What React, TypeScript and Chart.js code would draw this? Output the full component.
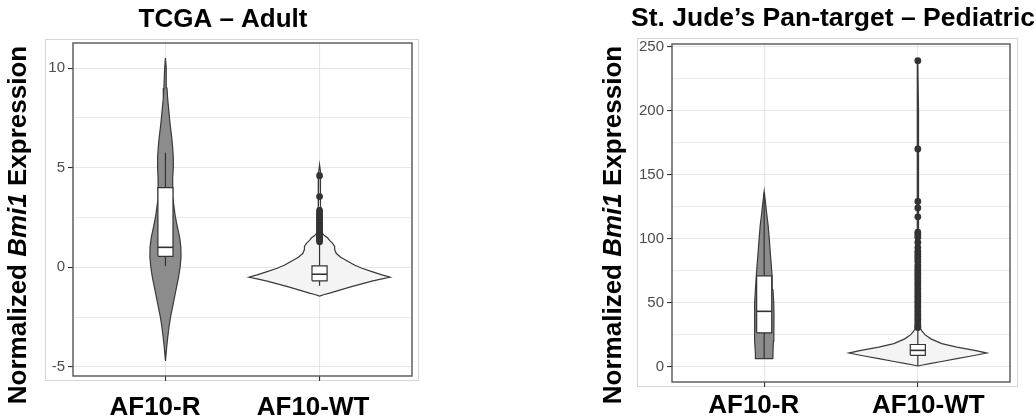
import React, { useEffect, useRef } from "react";
import { Chart, registerables } from "chart.js";

Chart.register(...registerables);

const FONT = '"Liberation Sans", Arial, Helvetica, sans-serif';

// ---------- shared ----------
const categories = ["AF10-R", "AF10-WT"];
const yTitleParts = [
  { text: "Normalized ", italic: false },
  { text: "Bmi1", italic: true },
  { text: " Expression", italic: false },
];

// ---------- TCGA – Adult ----------
const tcgaTitle = "TCGA \u2013 Adult";
const tcgaMajorTicks = [-5, 0, 5, 10];
const tcgaMinorTicks = [-2.5, 2.5, 7.5];
const tcgaRange = [-5.46, 11.26];

const tcgaRViolinY = [-4.7, -4, -3.5, -3, -2.5, -2, -1.5, -1, -0.5, 0, 0.5, 1, 1.5, 2, 2.5, 3, 3.5, 4, 4.5, 5, 5.5, 6, 6.5, 7, 7.5, 8, 8.5, 9, 10, 10.5];
const tcgaRViolinHalf = [0, 0.008, 0.015, 0.023, 0.033, 0.046, 0.059, 0.072, 0.085, 0.095, 0.101, 0.1, 0.092, 0.078, 0.065, 0.056, 0.048, 0.046, 0.048, 0.051, 0.051, 0.047, 0.041, 0.033, 0.026, 0.02, 0.014, 0.01, 0.005, 0];
const tcgaWTViolinY = [-1.45, -1.38, -1.3, -1.15, -1.0, -0.85, -0.7, -0.58, -0.5, -0.38, -0.22, -0.05, 0.1, 0.3, 0.5, 0.7, 0.9, 1.05, 1.2, 1.35, 1.48, 1.58, 1.68, 1.85, 2.3, 3.0, 4.0, 4.8, 5.15];
const tcgaWTViolinHalf = [0, 0.026, 0.065, 0.131, 0.196, 0.268, 0.34, 0.405, 0.458, 0.405, 0.34, 0.275, 0.229, 0.183, 0.137, 0.108, 0.098, 0.098, 0.085, 0.065, 0.052, 0.033, 0.022, 0.013, 0.01, 0.008, 0.007, 0.005, 0];
// [lower whisker, Q1, median, Q3, upper whisker]
const tcgaRBox = [0.07, 0.55, 1.0, 4.0, 5.75];
const tcgaWTBox = [-0.93, -0.68, -0.35, 0.07, 1.2];
const tcgaROutliers: number[] = [];
const tcgaWTOutliers = [4.6, 3.55, 2.85, 2.7, 2.6, 2.5, 2.4, 2.3, 2.2, 2.1, 2.0, 1.9, 1.8, 1.7, 1.6, 1.5, 1.42, 1.35, 1.28];

// ---------- St. Jude's Pan-target – Pediatric ----------
const sjTitle = "St. Jude\u2019s Pan-target \u2013 Pediatric";
const sjMajorTicks = [0, 50, 100, 150, 200, 250];
const sjMinorTicks = [25, 75, 125, 175, 225];
const sjRange = [-12, 252];

const sjRViolinY = [6.2, 10, 20, 30, 40, 50, 60, 70, 80, 90, 100, 110, 120, 130, 137];
const sjRViolinHalf = [0.057, 0.057, 0.06, 0.063, 0.064, 0.062, 0.057, 0.052, 0.046, 0.039, 0.033, 0.026, 0.016, 0.007, 0];
const sjWTViolinY = [0.5, 1.5, 2.3, 4.2, 6.2, 8.5, 10.6, 12.5, 15.3, 18, 21.7, 25, 28, 30, 35, 50, 100, 150, 200, 239];
const sjWTViolinHalf = [0, 0.039, 0.078, 0.163, 0.254, 0.358, 0.449, 0.378, 0.254, 0.156, 0.085, 0.046, 0.026, 0.016, 0.008, 0.007, 0.005, 0.005, 0.004, 0];
const sjRBox = [6.2, 26.4, 43.2, 70.9, 136];
const sjWTBox = [0.5, 8.8, 12.7, 17.3, 29.5];
const sjROutliers: number[] = [];
const sjWTOutliers = [239, 170, 129, 124, 117, 105, 103, 101, 97, 93, 90, 88, 86, 84, 82, 79, 77, 75, 73, 71, 69, 67, 65, 63, 61, 59, 57, 55, 53, 51, 49, 47, 45, 43, 41, 39, 37, 35, 33, 31.5, 30.5];

// ---------- styles ----------
const R_FILL = "#8c8c8c";
const WT_FILL = "#f4f4f4";
const OUTLINE = "#3a3a3a";
const BOX_HALF = 0.049;

type Pt = { x: number; y: number };

function violinPoints(center: number, ys: number[], half: number[]): Pt[] {
  const right = ys.map((y, i) => ({ x: center + half[i], y }));
  const left = ys.map((y, i) => ({ x: center - half[i], y })).reverse();
  const pts = [...right, ...left];
  pts.push({ ...pts[0] });
  return pts;
}

function groupDatasets(center: number, ys: number[], half: number[], box: number[], outliers: number[], fill: string) {
  const [lo, q1, med, q3, hi] = box;
  const base = { pointRadius: 0, pointHoverRadius: 0, tension: 0 };
  return [
    {
      ...base,
      data: violinPoints(center, ys, half),
      borderColor: OUTLINE,
      borderWidth: 1.2,
      backgroundColor: fill,
      fill: "shape",
      order: 10,
    },
    {
      ...base,
      data: [{ x: center, y: lo }, { x: center, y: q1 }],
      borderColor: "#333333",
      borderWidth: 1.2,
      fill: false,
      order: 8,
    },
    {
      ...base,
      data: [{ x: center, y: q3 }, { x: center, y: hi }],
      borderColor: "#333333",
      borderWidth: 1.2,
      fill: false,
      order: 8,
    },
    {
      ...base,
      data: [
        { x: center - BOX_HALF, y: q1 },
        { x: center + BOX_HALF, y: q1 },
        { x: center + BOX_HALF, y: q3 },
        { x: center - BOX_HALF, y: q3 },
        { x: center - BOX_HALF, y: q1 },
      ],
      borderColor: "#333333",
      borderWidth: 1.2,
      backgroundColor: "#ffffff",
      fill: "shape",
      order: 6,
    },
    {
      ...base,
      data: [{ x: center - BOX_HALF, y: med }, { x: center + BOX_HALF, y: med }],
      borderColor: "#333333",
      borderWidth: 1.6,
      fill: false,
      order: 5,
    },
    {
      data: outliers.map((y) => ({ x: center, y })),
      showLine: false,
      pointRadius: 3.4,
      pointHoverRadius: 3.4,
      pointBackgroundColor: "#333333",
      pointBorderColor: "#333333",
      pointBorderWidth: 0,
      order: 3,
    },
  ];
}

const framePlugin = {
  id: "panelFrame",
  beforeDraw(chart: any, _a: any, opts: any) {
    const { ctx, chartArea: a } = chart;
    ctx.save();
    ctx.strokeStyle = "#d6d6d6";
    ctx.lineWidth = 1;
    const o = opts.outer;
    ctx.strokeRect(a.left - o[0] + 0.5, a.top - o[1] + 0.5, a.right - a.left + o[0] + o[2], a.bottom - a.top + o[1] + o[3]);
    ctx.restore();
  },
  afterDatasetsDraw(chart: any) {
    const { ctx, chartArea: a } = chart;
    ctx.save();
    ctx.strokeStyle = "#555555";
    ctx.lineWidth = 1.4;
    ctx.strokeRect(a.left, a.top, a.right - a.left, a.bottom - a.top);
    ctx.restore();
  },
};

const textPlugin = {
  id: "panelText",
  afterDraw(chart: any, _a: any, opts: any) {
    const ctx = chart.ctx;
    ctx.save();
    ctx.fillStyle = "#000";
    ctx.font = `bold ${opts.titleSize}px ${FONT}`;
    ctx.textAlign = "center";
    ctx.textBaseline = "alphabetic";
    ctx.fillText(opts.title, opts.titleX, opts.titleY);
    ctx.translate(opts.yTitleX, opts.yTitleY);
    ctx.rotate(-Math.PI / 2);
    ctx.textAlign = "left";
    const fonts = yTitleParts.map((p) => `${p.italic ? "italic " : ""}bold 26px ${FONT}`);
    const widths = yTitleParts.map((p, i) => {
      ctx.font = fonts[i];
      return ctx.measureText(p.text).width;
    });
    const total = widths.reduce((s, w) => s + w, 0);
    let x = -total / 2;
    yTitleParts.forEach((p, i) => {
      ctx.font = fonts[i];
      ctx.fillText(p.text, x, 0);
      x += widths[i];
    });
    ctx.restore();
  },
};

type PanelCfg = {
  width: number;
  left: number;
  padding: { left: number; right: number; top: number; bottom: number };
  yWidth: number;
  xHeight: number;
  xPad: number;
  labelShift: number[];
  range: number[];
  majors: number[];
  minors: number[];
  datasets: any[];
  text: any;
  outer: number[];
};

function Panel({ cfg }: { cfg: PanelCfg }) {
  const ref = useRef<HTMLCanvasElement | null>(null);
  useEffect(() => {
    if (!ref.current) return;
    const all = [...cfg.majors, ...cfg.minors].sort((a, b) => a - b);
    const isMajor = (v: number) => cfg.majors.includes(v);
    const chart = new Chart(ref.current, {
      type: "line",
      data: { datasets: cfg.datasets },
      plugins: [framePlugin, textPlugin],
      options: {
        animation: false,
        responsive: false,
        devicePixelRatio: 1,
        events: [],
        layout: { padding: cfg.padding },
        plugins: {
          legend: { display: false },
          tooltip: { enabled: false },
          title: { display: false },
          panelText: cfg.text,
          panelFrame: { outer: cfg.outer },
        } as any,
        scales: {
          x: {
            type: "linear",
            position: "bottom",
            weight: 0,
            min: 0.4,
            max: 2.6,
            afterBuildTicks: (s: any) => {
              s.ticks = categories.map((_, i) => ({ value: i + 1 }));
            },
            afterFit: (s: any) => {
              s.height = 5;
            },
            ticks: { display: false },
            grid: { color: "#e6e6e6", lineWidth: 1.1, tickLength: 5, tickColor: "#333333" },
            border: { display: false },
          },
          xLabels: {
            type: "linear",
            position: "bottom",
            weight: 1,
            min: 0.4,
            max: 2.6,
            afterBuildTicks: (s: any) => {
              s.ticks = categories.map((_, i) => ({ value: i + 1 + cfg.labelShift[i] }));
            },
            afterFit: (s: any) => {
              s.height = cfg.xHeight - 5;
            },
            ticks: {
              autoSkip: false,
              maxRotation: 0,
              padding: cfg.xPad,
              color: "#000",
              font: { family: FONT, size: 26, weight: "bold" },
              callback: (_v: any, i: number) => categories[i] ?? "",
            },
            grid: { display: false, drawTicks: false },
            border: { display: false },
          },
          y: {
            type: "linear",
            min: cfg.range[0],
            max: cfg.range[1],
            afterBuildTicks: (s: any) => {
              s.ticks = all.map((v) => ({ value: v }));
            },
            afterFit: (s: any) => {
              s.width = cfg.yWidth;
            },
            ticks: {
              autoSkip: false,
              padding: 3,
              color: "#4d4d4d",
              font: { family: FONT, size: 15 },
              callback: (v: any) => (isMajor(Number(v)) ? String(v) : ""),
            },
            grid: {
              color: "#e6e6e6",
              lineWidth: (c: any) => (isMajor(c.tick?.value) ? 1.1 : 0.8),
              tickLength: 5,
              tickColor: (c: any) => (isMajor(c.tick?.value) ? "#333333" : "rgba(0,0,0,0)"),
            },
            border: { display: false },
          },
        },
      } as any,
    });
    return () => chart.destroy();
  }, [cfg]);
  return (
    <canvas
      ref={ref}
      width={cfg.width}
      height={418}
      style={{ position: "absolute", left: cfg.left, top: 0, width: cfg.width, height: 418, display: "block" }}
    />
  );
}

const tcgaCfg: PanelCfg = {
  width: 520,
  left: 0,
  padding: { left: 45, right: 108, top: 43, bottom: 0 },
  yWidth: 28,
  xHeight: 42,
  xPad: 11,
  labelShift: [-0.068, -0.042],
  range: tcgaRange,
  majors: tcgaMajorTicks,
  minors: tcgaMinorTicks,
  datasets: [
    ...groupDatasets(1, tcgaRViolinY, tcgaRViolinHalf, tcgaRBox, tcgaROutliers, R_FILL),
    ...groupDatasets(2, tcgaWTViolinY, tcgaWTViolinHalf, tcgaWTBox, tcgaWTOutliers, WT_FILL),
  ],
  text: { title: tcgaTitle, titleSize: 26, titleX: 223, titleY: 27, yTitleX: 26, yTitleY: 225 },
  outer: [28, 4, 6, 4],
};

const sjCfg: PanelCfg = {
  width: 516,
  left: 520,
  padding: { left: 117, right: 26, top: 44, bottom: 0 },
  yWidth: 35,
  xHeight: 36,
  xPad: 3,
  labelShift: [-0.068, 0.068],
  range: sjRange,
  majors: sjMajorTicks,
  minors: sjMinorTicks,
  datasets: [
    ...groupDatasets(1, sjRViolinY, sjRViolinHalf, sjRBox, sjROutliers, R_FILL),
    ...groupDatasets(2, sjWTViolinY, sjWTViolinHalf, sjWTBox, sjWTOutliers, WT_FILL),
  ],
  text: { title: sjTitle, titleSize: 26.5, titleX: 313, titleY: 26, yTitleX: 101, yTitleY: 225 },
  outer: [35, 6, 7, 4],
};

export default function App() {
  return (
    <div style={{ position: "fixed", left: 0, top: 0, width: 1036, height: 418, background: "#fff", overflow: "hidden" }}>
      <Panel cfg={tcgaCfg} />
      <Panel cfg={sjCfg} />
    </div>
  );
}
